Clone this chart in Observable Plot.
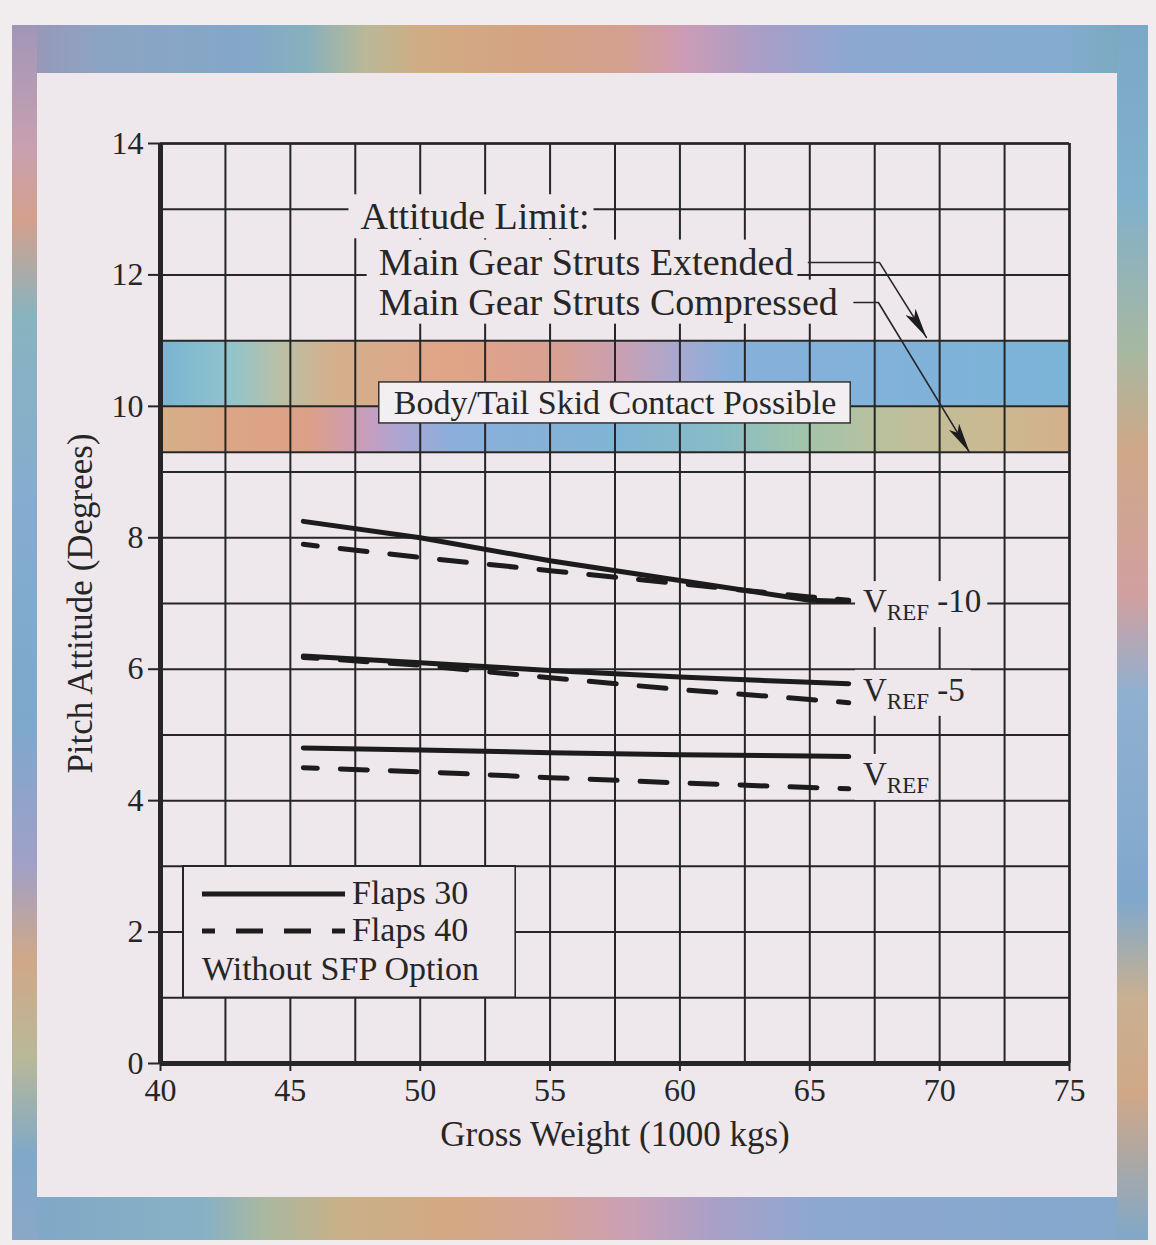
<!DOCTYPE html>
<html>
<head>
<meta charset="utf-8">
<script src="https://cdn.jsdelivr.net/npm/d3@7"></script>
<script src="https://cdn.jsdelivr.net/npm/@observablehq/plot@0.6"></script>
<style>
html, body { margin: 0; padding: 0; background: #f1eced; }
#page { position: relative; width: 1156px; height: 1245px; overflow: hidden; background: #f1eced;
  font-family: "Liberation Serif", "Times New Roman", serif; }
.band { position: absolute; }
#bTop { left: 12px; top: 25px; width: 1136px; height: 48px;
  background: linear-gradient(90deg, #9c94b4 0%, #8ca4c4 8%, #84a8c8 21%, #88b0bc 26%, #b8b898 31%, #d0ac84 36%, #d4a482 45%, #d4a090 54%, #cc9cb4 59%, #a89ec8 66%, #8ca8d0 74%, #84acd0 92%, #7aa8b8 100%); }
#bBottom { left: 12px; top: 1197px; width: 1136px; height: 43px;
  background: linear-gradient(90deg, #80a8c8 0%, #88b0c4 17%, #a8b8a0 22%, #c8b088 29%, #d4a882 39%, #d4a496 47%, #cca0b4 54%, #a8a0c8 62%, #8ca8d0 71%, #84a8cc 100%); }
#bLeft { left: 12px; top: 25px; width: 25px; height: 1215px;
  background: linear-gradient(180deg, #a096b8 0%, #c8a0b0 10%, #d4a08c 16%, #88b4c0 24%, #84acd0 40%, #7ca8cc 57%, #a0a0c8 69%, #d0a888 77%, #b8b898 85%, #80a8c8 93%, #8aa8c8 100%); }
#bRight { left: 1117px; top: 25px; width: 31px; height: 1215px;
  background: linear-gradient(180deg, #7ca8c8 0%, #80b0cc 14%, #a8b8a0 27%, #d0a888 35%, #d0a0a0 47%, #90b0d0 55%, #80a8cc 72%, #c8b090 80%, #d0a888 88%, #80a8c8 100%); }
#panel { position: absolute; left: 37px; top: 73px; width: 1080px; height: 1124px; background: #eee7eb; }
#chart { position: absolute; left: 0; top: 0; }
</style>
</head>
<body>
<div id="page">
  <div class="band" id="bTop"></div>
  <div class="band" id="bBottom"></div>
  <div class="band" id="bLeft"></div>
  <div class="band" id="bRight"></div>
  <div id="panel"></div>
  <div id="chart"></div>
</div>
<script>
// ---------- data ----------
const xTicks = [40, 45, 50, 55, 60, 65, 70, 75];
const yTicks = [0, 2, 4, 6, 8, 10, 12, 14];
const xGrid = d3.range(40, 75.01, 2.5);
const yGrid = d3.range(0, 14.01, 1);

const weights = [45.5, 50, 55, 60, 65, 66.5];
const vref10Flaps30 = [8.25, 8.0, 7.65, 7.35, 7.05, 7.03];
const vref10Flaps40 = [7.9, 7.7, 7.5, 7.3, 7.1, 7.05];
const vref5Flaps30 = [6.2, 6.1, 5.98, 5.88, 5.8, 5.78];
const vref5Flaps40 = [6.18, 6.06, 5.87, 5.69, 5.54, 5.49];
const vrefFlaps30 = [4.8, 4.77, 4.73, 4.7, 4.68, 4.67];
const vrefFlaps40 = [4.5, 4.44, 4.35, 4.27, 4.2, 4.18];

const seriesList = [
  { name: "VREF-10", flaps: 30, values: vref10Flaps30 },
  { name: "VREF-10", flaps: 40, values: vref10Flaps40 },
  { name: "VREF-5", flaps: 30, values: vref5Flaps30 },
  { name: "VREF-5", flaps: 40, values: vref5Flaps40 },
  { name: "VREF", flaps: 30, values: vrefFlaps30 },
  { name: "VREF", flaps: 40, values: vrefFlaps40 }
];

const bandLimits = { low: 9.3, mid: 10, high: 11 };

const limitLabels = [
  { text: "Attitude Limit:", x: 47.7, y: 12.88 },
  { text: "Main Gear Struts Extended", x: 48.4, y: 12.19 },
  { text: "Main Gear Struts Compressed", x: 48.4, y: 11.58 }
];
const bodyLabel = [{ text: "Body/Tail Skid Contact Possible", x: 57.5, y: 10.05 }];

const leaderExtended = [{ x: 64.95, y: 12.19 }, { x: 67.68, y: 12.19 }, { x: 69.49, y: 11.05 }];
const leaderCompressed = [{ x: 66.7, y: 11.58 }, { x: 67.64, y: 11.58 }, { x: 71.15, y: 9.3 }];

const vrefLabels = [
  { main: "V", sub: "REF", tail: " -10", x: 67.05, y: 7.03 },
  { main: "V", sub: "REF", tail: " -5", x: 67.05, y: 5.68 },
  { main: "V", sub: "REF", tail: "", x: 67.05, y: 4.40 }
];

const legendItems = [
  { label: "Flaps 30", dash: null },
  { label: "Flaps 40", dash: "27,21" }
];
const legendNote = "Without SFP Option";
const legendBox = { x1: 40.88, x2: 53.68, y1: 1, y2: 3 };

const xTitle = "Gross Weight (1000 kgs)";
const yTitle = "Pitch Attitude (Degrees)";

// ---------- build ----------
const curveRows = seriesList.flatMap(s =>
  weights.map((w, i) => ({ key: s.name + " " + s.flaps, flaps: s.flaps, x: w, y: s.values[i] })));

const INK = "#262626";
const PANEL = "#eee7eb";
// near-identical inks used to find the annotation groups after rendering
const INK_LIMIT = "#262627", INK_BODY = "#262628", INK_VREF = "#262629", INK_LEADER = "#26262a";

const chart = Plot.plot({
  width: 1156,
  height: 1245,
  marginLeft: 160,
  marginRight: 87,
  marginTop: 143,
  marginBottom: 182,
  style: { background: "transparent", fontFamily: "'Liberation Serif', 'Times New Roman', serif", fontSize: "32px", color: INK },
  x: { domain: [40, 75] },
  y: { domain: [0, 14] },
  marks: [
    Plot.rect([bandLimits], { x1: 40, x2: 75, y1: "mid", y2: "high", fill: "url(#bandTop)" }),
    Plot.rect([bandLimits], { x1: 40, x2: 75, y1: "low", y2: "mid", fill: "url(#bandBottom)" }),
    Plot.ruleX(xGrid, { stroke: INK, strokeWidth: 2 }),
    Plot.ruleY(yGrid, { stroke: INK, strokeWidth: 2 }),
    Plot.ruleY([bandLimits.low], { stroke: INK, strokeWidth: 2 }),
    Plot.ruleY([14], { stroke: INK, strokeWidth: 2.5 }),
    Plot.ruleX([75], { stroke: INK, strokeWidth: 2.5 }),
    Plot.ruleX([40], { stroke: INK, strokeWidth: 5 }),
    Plot.ruleY([0], { stroke: INK, strokeWidth: 5 }),
    Plot.line(curveRows.filter(d => d.flaps === 30), { x: "x", y: "y", z: "key", stroke: "#1c1c1c", strokeWidth: 5 }),
    Plot.line(curveRows.filter(d => d.flaps === 40), { x: "x", y: "y", z: "key", stroke: "#1c1c1c", strokeWidth: 5, strokeDasharray: "27,23", strokeDashoffset: 13 }),
    Plot.text(limitLabels, { x: "x", y: "y", text: "text", textAnchor: "start", fontSize: 38, fill: INK_LIMIT }),
    Plot.text(bodyLabel, { x: "x", y: "y", text: "text", textAnchor: "middle", fontSize: 34, fill: INK_BODY }),
    Plot.text(vrefLabels, { x: "x", y: "y", text: d => d.main + d.sub + d.tail, textAnchor: "start", fontSize: 33, fill: INK_VREF }),
    Plot.line(leaderExtended, { x: "x", y: "y", stroke: INK_LEADER, strokeWidth: 1.6 }),
    Plot.line(leaderCompressed, { x: "x", y: "y", stroke: INK_LEADER, strokeWidth: 1.6 }),
    Plot.axisX({ ticks: xTicks, tickSize: 8, tickPadding: 7, fontSize: 32, label: null, strokeWidth: 2 }),
    Plot.axisY({ ticks: yTicks, tickSize: 12, tickPadding: 5, fontSize: 32, label: null, strokeWidth: 2 }),
    Plot.text([xTitle], { frameAnchor: "bottom", dy: 82, fontSize: 35, fill: INK }),
    Plot.text([yTitle], { frameAnchor: "left", textAnchor: "middle", rotate: -90, dx: -80, fontSize: 35, fill: INK })
  ]
});

document.getElementById("chart").appendChild(chart);

const NS = "http://www.w3.org/2000/svg";
const svg = chart.tagName.toLowerCase() === "svg" ? chart : chart.querySelector("svg");

// gradients and arrowhead
const defs = document.createElementNS(NS, "defs");
defs.innerHTML = `
<linearGradient id="bandTop" x1="0" x2="1" y1="0" y2="0">
  <stop offset="0" stop-color="#78b4d2"/><stop offset="0.077" stop-color="#90c4cc"/>
  <stop offset="0.13" stop-color="#b8c0a8"/><stop offset="0.19" stop-color="#d4b08c"/>
  <stop offset="0.32" stop-color="#e0a486"/><stop offset="0.44" stop-color="#d8a094"/>
  <stop offset="0.51" stop-color="#c8a0b4"/><stop offset="0.57" stop-color="#a8a8d0"/>
  <stop offset="0.63" stop-color="#86b0da"/><stop offset="1" stop-color="#7cb4d8"/>
</linearGradient>
<linearGradient id="bandBottom" x1="0" x2="1" y1="0" y2="0">
  <stop offset="0" stop-color="#d4b088"/><stop offset="0.077" stop-color="#dca686"/>
  <stop offset="0.165" stop-color="#dca088"/><stop offset="0.22" stop-color="#cc9cb8"/>
  <stop offset="0.26" stop-color="#b0a4d0"/><stop offset="0.32" stop-color="#8caedc"/>
  <stop offset="0.5" stop-color="#80b4d4"/><stop offset="0.62" stop-color="#88bcc4"/>
  <stop offset="0.70" stop-color="#a0c4ac"/><stop offset="0.81" stop-color="#bcc09c"/>
  <stop offset="0.93" stop-color="#ccb890"/><stop offset="1" stop-color="#d4b08c"/>
</linearGradient>
<marker id="arrowhead" viewBox="0 0 30 12" refX="30" refY="6" markerWidth="30" markerHeight="12" markerUnits="userSpaceOnUse" orient="auto">
  <path d="M0,0 L30,6 L0,12 L7,6 Z" fill="#1c1c1c"/>
</marker>`;
svg.insertBefore(defs, svg.firstChild);

function groupsByColor(attr, color) {
  return Array.from(svg.querySelectorAll(`g[${attr}]`)).filter(g => {
    const v = (g.getAttribute(attr) || "").toLowerCase();
    return v === color || v === d3.color(color).toString();
  });
}

// arrowheads on leaders
groupsByColor("stroke", INK_LEADER).forEach(g =>
  g.querySelectorAll("path").forEach(p => p.setAttribute("marker-end", "url(#arrowhead)")));

// subscripts for VREF labels
groupsByColor("fill", INK_VREF).forEach(g => {
  g.querySelectorAll("text").forEach((t, i) => {
    const d = vrefLabels[i];
    t.textContent = "";
    t.style.whiteSpace = "pre";
    const a = document.createElementNS(NS, "tspan"); a.textContent = d.main; t.appendChild(a);
    const b = document.createElementNS(NS, "tspan"); b.textContent = d.sub; b.setAttribute("font-size", "23"); b.setAttribute("dy", "8"); t.appendChild(b);
    if (d.tail) {
      const c = document.createElementNS(NS, "tspan"); c.textContent = d.tail; c.setAttribute("dy", "-8"); t.appendChild(c);
    }
  });
});

// background boxes behind annotation texts
function addBoxes(color, opt) {
  const sr = svg.getBoundingClientRect();
  groupsByColor("fill", color).forEach(g => {
    g.querySelectorAll("text").forEach(t => {
      const b = t.getBoundingClientRect();
      const r = document.createElementNS(NS, "rect");
      r.setAttribute("x", b.left - sr.left - opt.padL);
      r.setAttribute("y", b.top - sr.top - opt.padT);
      r.setAttribute("width", b.width + opt.padL + opt.padR);
      r.setAttribute("height", b.height + opt.padT + opt.padB);
      r.setAttribute("fill", opt.fill);
      if (opt.stroke) { r.setAttribute("stroke", opt.stroke); r.setAttribute("stroke-width", opt.strokeWidth || 1.5); }
      g.parentNode.insertBefore(r, g);
    });
  });
}
addBoxes(INK_LIMIT, { padL: 12, padR: 4, padT: 1, padB: 1, fill: PANEL });
addBoxes(INK_BODY, { padL: 15, padR: 14, padT: 2, padB: 2, fill: "#f3eef1", stroke: "#333", strokeWidth: 1.5 });
addBoxes(INK_VREF, { padL: 8, padR: 6, padT: 2, padB: 2, fill: PANEL });

// legend overlay, positioned by the chart's scales
const sx = chart.scale("x"), sy = chart.scale("y");
const lx = sx.apply(legendBox.x1), rx = sx.apply(legendBox.x2);
const ty = sy.apply(legendBox.y2), by = sy.apply(legendBox.y1);
const lw = rx - lx, lh = by - ty;
const leg = document.createElementNS(NS, "svg");
leg.setAttribute("width", lw + 2);
leg.setAttribute("height", lh + 2);
leg.style.left = (lx - 1) + "px";
leg.style.top = (ty - 1) + "px";
leg.style.position = "absolute";
let inner = `<rect x="1" y="1" width="${lw}" height="${lh}" fill="${PANEL}" stroke="${INK}" stroke-width="2"/>`;
legendItems.forEach((it, i) => {
  const yy = 29 + i * 37;
  inner += `<line x1="20" x2="163" y1="${yy}" y2="${yy}" stroke="#1c1c1c" stroke-width="5" ${it.dash ? `stroke-dasharray="${it.dash}" stroke-dashoffset="14"` : ""}/>`;
  inner += `<text x="170" y="${yy - 2}" dy="0.34em" font-size="34" fill="${INK}" font-family="'Liberation Serif', serif">${it.label}</text>`;
});
inner += `<text x="20" y="103" dy="0.34em" font-size="34" fill="${INK}" font-family="'Liberation Serif', serif">${legendNote}</text>`;
leg.innerHTML = inner;
document.getElementById("page").appendChild(leg);
</script>
</body>
</html>
